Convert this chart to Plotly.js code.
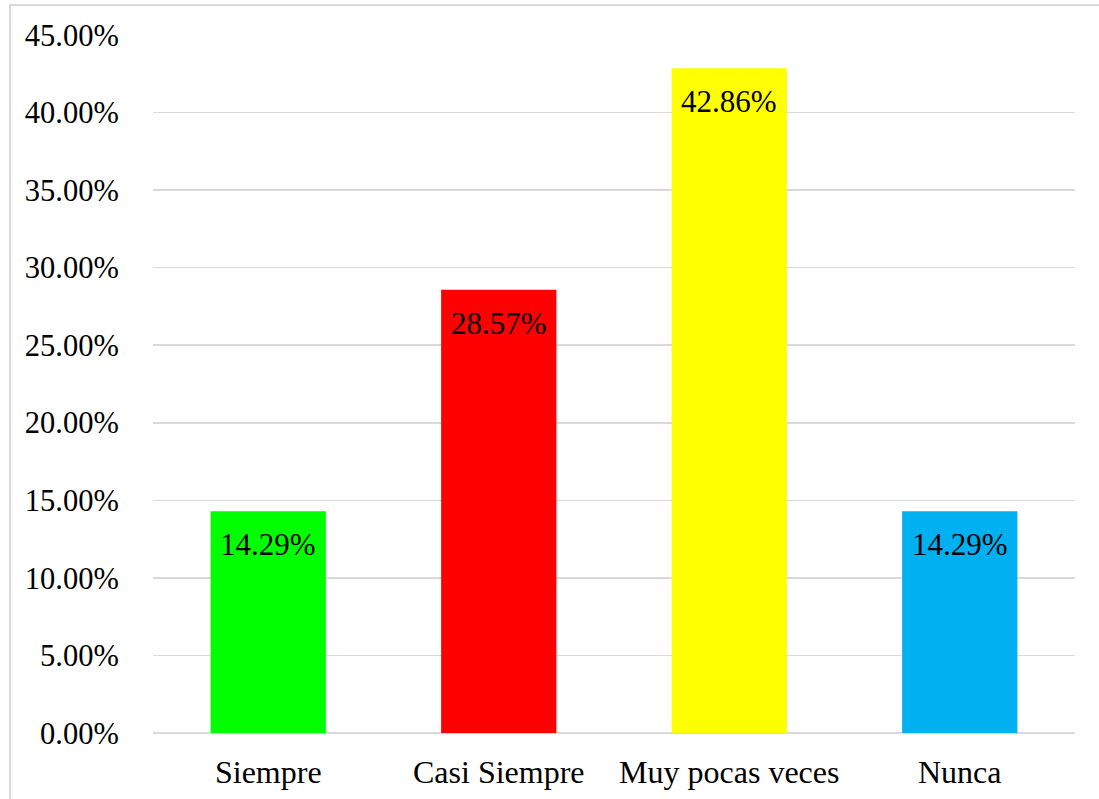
<!DOCTYPE html>
<html>
<head>
<meta charset="utf-8">
<script src="https://cdn.plot.ly/plotly-3.0.1.min.js"></script>
<style>html,body{margin:0;padding:0;background:#fff;}#chart{width:1099px;height:799px;}</style>
</head>
<body>
<div id="chart"></div>
<script>
const categories = ["Siempre", "Casi Siempre", "Muy pocas veces", "Nunca"];
const values = [0.1429, 0.2857, 0.4286, 0.1429];
const barColors = ["#00ff00", "#ff0000", "#ffff00", "#00b0f0"];
const yTickVals = [0, 0.05, 0.10, 0.15, 0.20, 0.25, 0.30, 0.35, 0.40, 0.45];

const FONT = "Liberation Serif";

const trace = {
  type: "bar",
  x: categories,
  y: values,
  marker: { color: barColors, line: { width: 0 } },
  hoverinfo: "none"
};

const annotations = categories.map((c, i) => ({
  x: c,
  y: values[i],
  xref: "x",
  yref: "y",
  text: (values[i] * 100).toFixed(2) + "%",
  showarrow: false,
  yanchor: "top",
  yshift: -14,
  font: { family: FONT, size: 31, color: "#000" }
}));

const layout = {
  width: 1099,
  height: 799,
  margin: { l: 153, r: 24, t: 35, b: 66 },
  paper_bgcolor: "#fff",
  plot_bgcolor: "#fff",
  showlegend: false,
  bargap: 0.5,
  font: { family: FONT, size: 30, color: "#000" },
  annotations: annotations,
  xaxis: {
    type: "category",
    showgrid: false,
    zeroline: false,
    showline: false,
    ticks: "outside",
    ticklen: 11,
    tickcolor: "rgba(0,0,0,0)",
    tickfont: { family: FONT, size: 32, color: "#000" }
  },
  yaxis: {
    range: [0, 0.45],
    tickvals: yTickVals,
    tickformat: ".2%",
    showgrid: true,
    gridcolor: "#d9d9d9",
    gridwidth: 1.5,
    zeroline: true,
    zerolinecolor: "#d9d9d9",
    zerolinewidth: 1.5,
    showline: false,
    ticks: "outside",
    ticklen: 27,
    tickcolor: "rgba(0,0,0,0)",
    tickfont: { family: FONT, size: 30.5, color: "#000" }
  },
  shapes: [{
    type: "rect",
    xref: "paper", yref: "paper",
    x0: -0.1551, x1: 1.2,
    y0: -0.3, y1: 1.043,
    line: { color: "#d9d9d9", width: 2 },
    fillcolor: "rgba(0,0,0,0)",
    layer: "below"
  }]
};

Plotly.newPlot("chart", [trace], layout, { displayModeBar: false, staticPlot: true });
</script>
</body>
</html>
